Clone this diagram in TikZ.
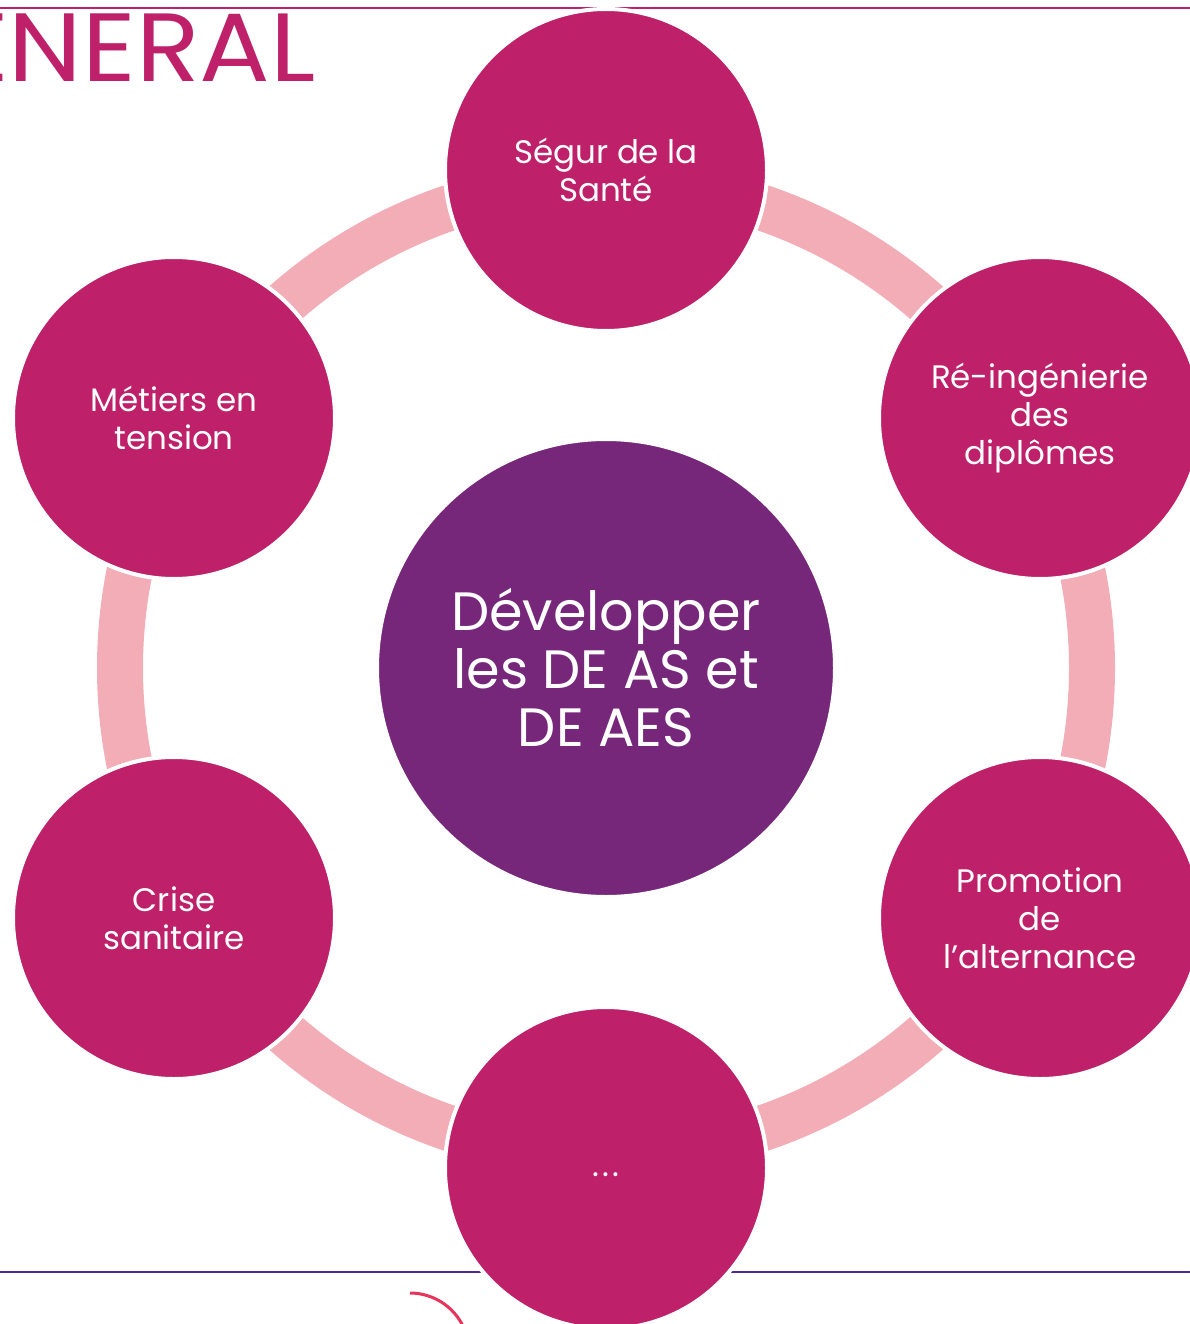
\documentclass[tikz,border=0pt]{standalone}
\usepackage{fontspec}
\setmainfont{Poppins}
\definecolor{mag}{HTML}{BE2069}
\definecolor{purp}{HTML}{76277A}
\definecolor{ringpink}{HTML}{F2ADB6}
\definecolor{linepurple}{HTML}{4E2A92}
\definecolor{arcred}{HTML}{E8345A}
\begin{document}
\begin{tikzpicture}[x=1pt,y=-1pt,
  outer/.style={circle, fill=mag, draw=white, line width=4pt, minimum size=322pt, inner sep=0pt,
    text=white, align=center, font=\fontsize{32.5}{38}\selectfont},
  centre/.style={circle, fill=purp, draw=white, line width=4pt, minimum size=458pt, inner sep=0pt,
    text=white, align=center, font=\fontsize{54}{58}\selectfont}]
\useasboundingbox (0,0) rectangle (1190,1324);
\clip (0,0) rectangle (1190,1324);
\draw[mag, line width=2pt] (0,8) -- (1190,8);
\draw[linepurple, line width=2pt] (0,1272) -- (1190,1272);
\node[anchor=base east, text=mag, inner sep=0pt, xscale=1.08, font=\fontsize{97}{97}\selectfont] (title) at (316,82) {ENERAL};
\coordinate (arccentre) at (410,1352);
\draw[arcred, line width=3pt] ([shift={(90:59pt)}]arccentre) arc[start angle=90, end angle=20, radius=59pt];
\coordinate (hub) at (606,668);
\draw[ringpink, line width=46pt] (hub) circle (486pt);
\node[centre] (c) at (hub) {Développer\\les DE AS et\\DE AES};
\node[outer] (n1) at (606,170) {Ségur de la\\Santé};
\node[outer] (n2) at (1040,418) {Ré-ingénierie\\des\\diplômes};
\node[outer] (n3) at (1040,918) {Promotion\\de\\l’alternance};
\node[outer] (n4) at (606,1168) {\raisebox{-18pt}{.\kern3pt.\kern3pt.}};
\node[outer] (n5) at (174,918) {Crise\\sanitaire};
\node[outer] (n6) at (174,418) {Métiers en\\tension};
\end{tikzpicture}
\end{document}
